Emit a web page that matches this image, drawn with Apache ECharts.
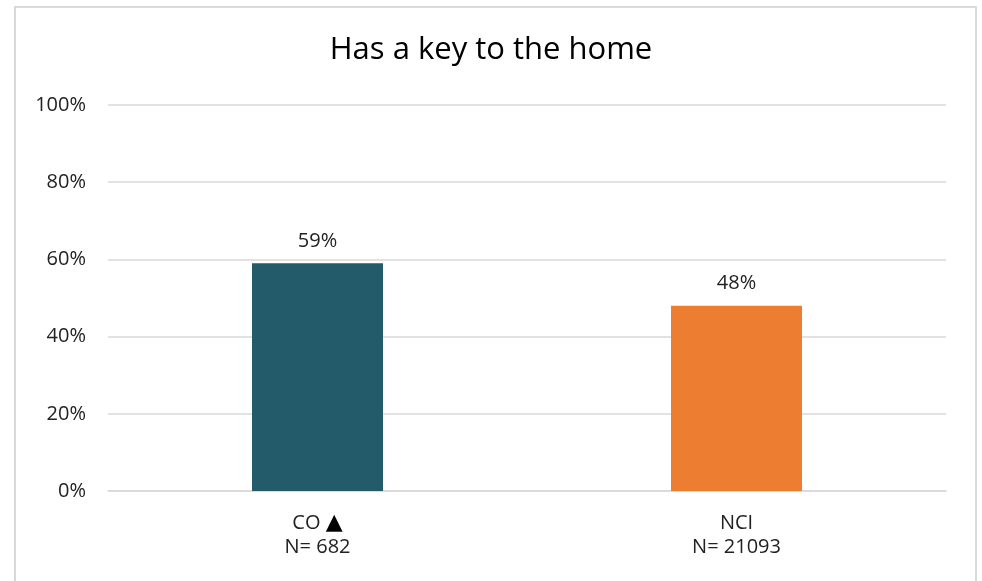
<!DOCTYPE html>
<html><head><meta charset="utf-8">
<script src="https://cdn.jsdelivr.net/npm/echarts@6/dist/echarts.min.js"></script>
<style>html,body{margin:0;padding:0;background:#fff}#c{width:982px;height:581px}</style>
</head><body><div id="c"></div>
<script>
const title = "Has a key to the home";
const categories = ["CO ▲\nN= 682", "NCI\nN= 21093"];
const values = [59, 48];
const colors = ["#235B6B", "#ED7D31"];
const yTicks = [0, 20, 40, 60, 80, 100];

const chart = echarts.init(document.getElementById('c'), null, {renderer: 'canvas'});
const font = "'Open Sans', 'Noto Sans', sans-serif";
chart.setOption({
  animation: false,
  title: {text: title, left: 'center', top: 30, textStyle: {fontFamily: font, fontWeight: 'normal', fontSize: 31, color: '#000'}},
  graphic: [{type: 'rect', shape: {x: 15, y: 7, width: 961, height: 590}, style: {fill: 'none', stroke: '#d9d9d9', lineWidth: 2}, silent: true}],
  grid: {left: 108, right: 36, top: 105, bottom: 90, containLabel: false},
  xAxis: {type: 'category', data: categories,
    axisLine: {lineStyle: {color: '#d9d9d9', width: 1.5}}, axisTick: {show: false},
    axisLabel: {fontFamily: font, fontSize: 20, color: '#222', lineHeight: 24, margin: 20,
      formatter: v => v.replace('▲', '{t|▲}'),
      rich: {t: {fontFamily: "'DejaVu Sans', sans-serif", fontSize: 22, color: '#000', lineHeight: 24}}}},
  yAxis: {type: 'value', min: 0, max: 100, interval: 20,
    axisLabel: {formatter: v => yTicks.includes(v) ? v + '%' : '', fontFamily: font, fontSize: 20, color: '#222', margin: 22},
    splitLine: {lineStyle: {color: '#d9d9d9', width: 1.5}}, axisLine: {show: false}, axisTick: {show: false}},
  series: [{type: 'bar', barWidth: 131,
    data: values.map((v, i) => ({value: v, itemStyle: {color: colors[i]}})),
    label: {show: true, position: 'top', distance: 12, formatter: p => p.value + '%', fontFamily: font, fontSize: 20, color: '#222'}}]
});
</script></body></html>
